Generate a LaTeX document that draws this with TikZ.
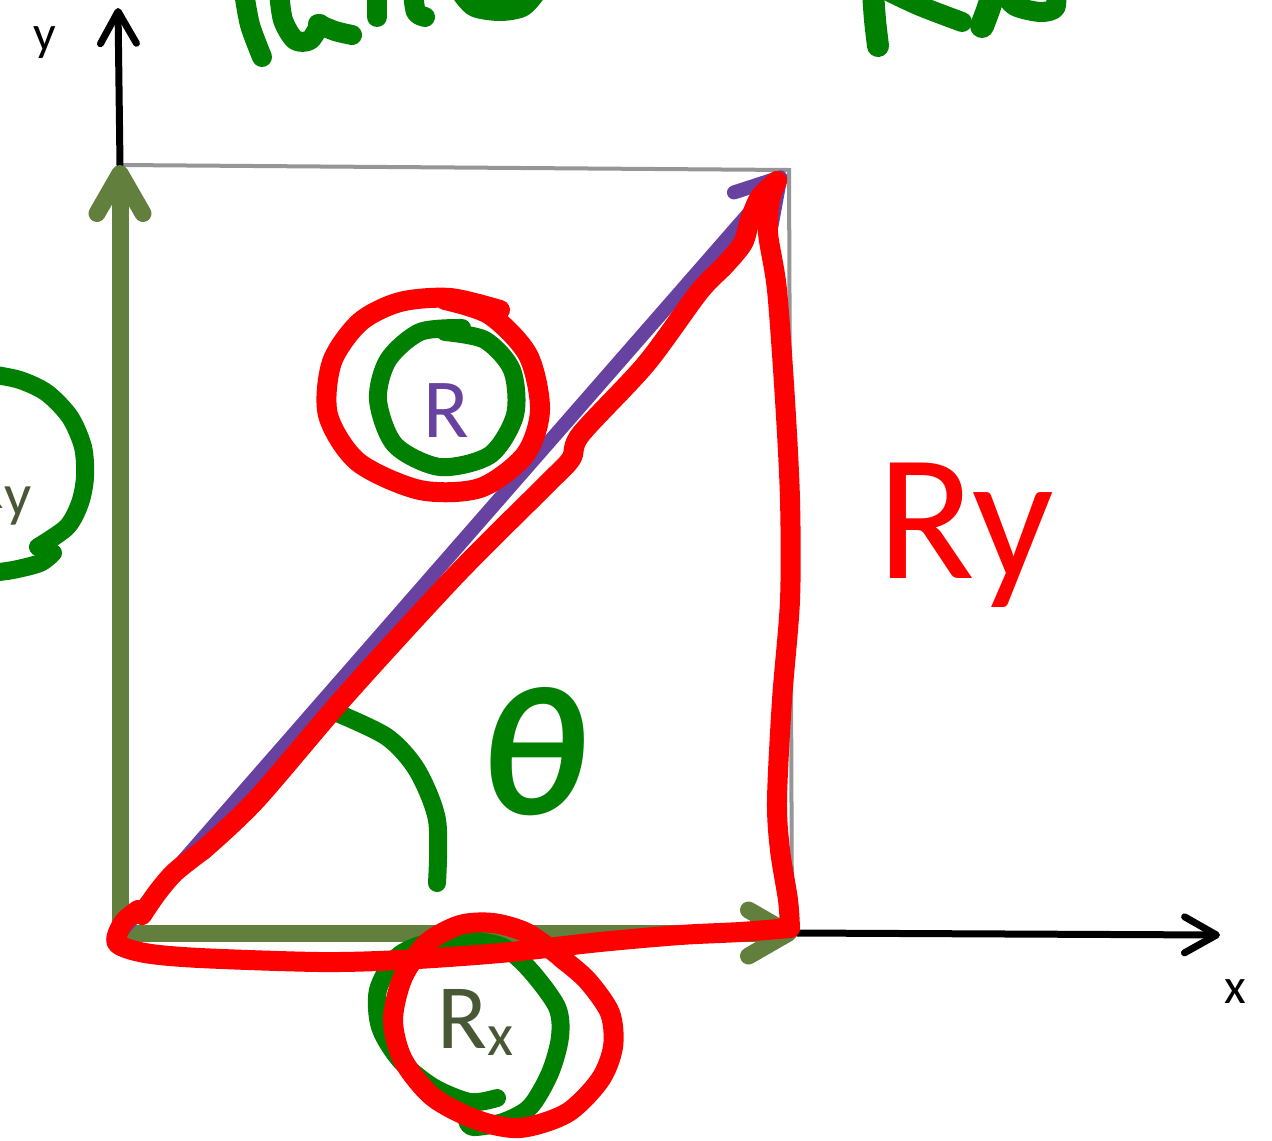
\documentclass[tikz,border=0pt]{standalone}
\usepackage{fontspec}
\setmainfont{Carlito}
\usetikzlibrary{arrows.meta}
\definecolor{vecgreen}{RGB}{98,127,62}
\definecolor{vecpurple}{RGB}{104,66,160}
\definecolor{labgreen}{RGB}{72,88,52}
\definecolor{inkgreen}{RGB}{0,128,0}
\definecolor{inkred}{RGB}{255,0,0}
\definecolor{boxgray}{RGB}{150,150,150}
\begin{document}
\begin{tikzpicture}[x=0.5pt,y=-0.5pt,
  axisline/.style={line width=3.5pt,black,line cap=round,-{Straight Barb[length=16pt,width=18pt,round]}},
  vecg/.style={line width=8.5pt,vecgreen,line cap=round,-{Straight Barb[length=20pt,width=23pt,round]}},
  vecp/.style={line width=7pt,vecpurple,line cap=round,-{Straight Barb[length=21pt,width=25pt,round]}},
  grayline/.style={line width=2pt,boxgray},
  ginkstroke/.style={line width=9pt,inkgreen,line cap=round,line join=round},
  rinkstroke/.style={line width=10pt,inkred,line cap=round,line join=round},
  lbl/.style={inner sep=0pt}]
\useasboundingbox (0,0) rectangle (1272,1140);
\fill[white] (0,0) rectangle (1272,1140);
\begin{scope}
\clip (0,0) rectangle (1272,1140);
% named points
\coordinate (O) at (120,933);
\coordinate (Yv) at (120,165);
\coordinate (Xv) at (797,933);
\coordinate (Rv) at (785,172);
\coordinate (Ytip) at (118,8);
\coordinate (Xtip) at (1220,935);
\coordinate (C) at (789,170);
\coordinate (Cb) at (792,933);
% box lines
\draw[grayline] (Yv) -- (C) -- (Cb);
% axes
\draw[axisline] (Yv) -- (Ytip);
\draw[axisline] (Xv) -- (Xtip);
% vectors
\draw[vecg] (O) -- (Yv);
\draw[vecg] (O) -- (Xv);
\draw[vecp] (O) -- (Rv);
% labels
\node[lbl,anchor=base,font=\fontsize{25}{28}\selectfont] (ylab) at (45,50) {y};
\node[lbl,anchor=base,font=\fontsize{25}{28}\selectfont] (xlab) at (1235,1003) {x};
\node[lbl,anchor=base,text=vecpurple,font=\fontsize{42}{48}\selectfont] (Rlab) at (446,437) {R};
\node[lbl,anchor=base west,text=labgreen] (Rxlab) at (437,1048) {{\fontsize{46}{50}\selectfont R}{\fontsize{30}{34}\selectfont\raisebox{-3.5pt}{x}}};
\node[lbl,anchor=base east,text=labgreen] (Rylab) at (32,508) {{\fontsize{46}{50}\selectfont R}{\fontsize{30}{34}\selectfont\raisebox{-3.5pt}{y}}};
% handwritten labels
\node[lbl,anchor=base west,text=inkred,font=\fontsize{90}{96}\selectfont] (Ryhand) at (877,578) {Ry};
\node[lbl,text=inkgreen,font=\fontsize{92}{96}\selectfont\bfseries\itshape] (theta) at (533,752) {θ};
% top fragments of handwriting (cut off)
\draw[ginkstroke,line width=10pt] plot[smooth] coordinates {(244,-8) (250,25) (262,57)};
\draw[ginkstroke,line width=10pt] plot[smooth] coordinates {(279,-8) (283,20) (295,40) (310,40) (320,24)};
\draw[ginkstroke,line width=10pt] plot[smooth] coordinates {(318,24) (335,31) (352,35)};
\draw[ginkstroke,line width=10pt] (377,-8) -- (377,17);
\draw[ginkstroke,line width=10pt] plot[smooth] coordinates {(413,-8) (416,12) (425,17)};
\draw[ginkstroke,line width=11pt] plot[smooth] coordinates {(462,-8) (475,6) (500,10) (522,6) (535,-8)};
\draw[ginkstroke,line width=11pt] plot[smooth] coordinates {(873,-8) (875,20) (878,46)};
\draw[ginkstroke,line width=10pt] plot[smooth] coordinates {(890,-8) (920,6) (962,22)};
\draw[ginkstroke,line width=12pt] plot[smooth] coordinates {(994,-8) (988,10) (982,26)};
\draw[ginkstroke,line width=10pt] plot[smooth] coordinates {(1003,-8) (1015,6) (1040,12) (1055,8) (1056,-8)};
% green circles
\draw[ginkstroke] plot[smooth] coordinates {(-10,374) (20,380) (47,393) (70,417) (83,447) (85,477) (80,503) (67,527) (38,547)};
\draw[ginkstroke] plot[smooth] coordinates {(53,553) (40,563) (13,570) (-10,573)};
\draw[ginkstroke] plot[smooth] coordinates {(462,328) (420,332) (388,360) (378,400) (395,445) (440,467) (490,455) (515,415) (512,370) (485,340) (445,332)};
\draw[ginkstroke] plot[smooth] coordinates {(497,1098) (470,1102) (433,1087) (400,1060) (380,1027) (378,990) (397,957) (427,943) (467,940) (503,947) (530,970) (557,1007) (560,1037) (550,1073) (530,1107) (503,1122) (473,1127) (467,1120)};
% theta arc
\draw[ginkstroke] plot[smooth] coordinates {(337,713) (387,737) (417,770) (437,820) (437,883)};
% red triangle
\draw[rinkstroke] plot[smooth] coordinates {(203,850) (175,872) (157,893) (142,915)};
\draw[rinkstroke] plot[smooth] coordinates {(138,910) (123,923) (117,943) (145,953) (200,958) (320,962) (400,960) (500,953) (600,942) (680,935) (740,932) (790,928)};
\draw[rinkstroke] plot[smooth] coordinates {(790,928) (788,900) (780,850) (777,800) (782,700) (790,600) (790,500) (785,400) (777,290) (768,233) (770,200) (777,181)};
\draw[rinkstroke] plot[smooth] coordinates {(777,181) (760,197) (750,220) (743,243) (725,265) (699,292) (646,364) (581,434) (571,459) (546,485) (456,575) (346,695) (256,800) (203,850)};
% red circles
\draw[rinkstroke] plot[smooth] coordinates {(500,310) (450,298) (400,302) (360,322) (332,362) (328,415) (358,462) (420,490) (480,488) (525,455) (540,410) (528,355) (490,315) (445,300)};
\draw[rinkstroke] plot[smooth] coordinates {(560,957) (587,980) (610,1013) (613,1047) (600,1080) (567,1113) (520,1128) (477,1120) (433,1097) (403,1060) (393,1020) (403,977) (427,943) (460,925) (493,923) (527,933) (562,958)};
\end{scope}
\end{tikzpicture}
\end{document}
